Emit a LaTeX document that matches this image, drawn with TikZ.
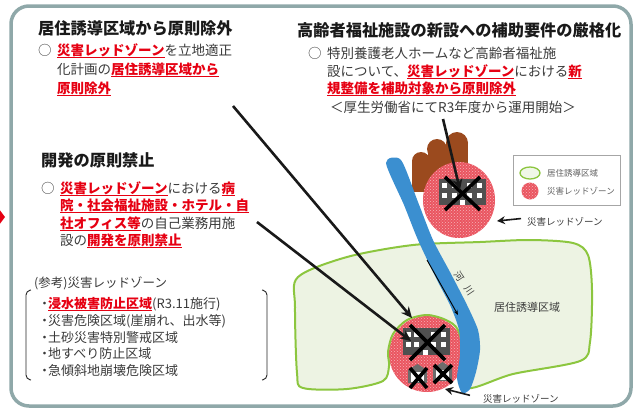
\documentclass[tikz,border=0pt]{standalone}
\usepackage{fontspec}
\setmainfont{Noto Sans CJK JP}
\usetikzlibrary{arrows.meta,patterns}

\definecolor{framec}{HTML}{8FA8A9}
\definecolor{zred}{HTML}{E60012}
\definecolor{zonered}{HTML}{EA5560}
\definecolor{areagreen}{HTML}{8CC63F}
\definecolor{areafill}{HTML}{EDF3E3}
\definecolor{riverblue}{HTML}{3B8FD0}
\definecolor{hillbrown}{HTML}{9B4A1E}
\definecolor{bldgray}{HTML}{505050}
\definecolor{txt}{HTML}{3A3A3A}

% red, bold, underlined emphasis
\newcommand\rz[1]{\leavevmode{\color{zred}\bfseries\setbox0=\hbox{#1}\rlap{\rule[-2.6pt]{\wd0}{1.1pt}}\box0}}
\newcommand\bul{\makebox[7pt][c]{・}}

\begin{document}
\begin{tikzpicture}[x=1pt,y=-1pt,
  ttl/.style={anchor=base west, inner sep=0pt, font=\fontsize{16.2}{19}\selectfont\bfseries, text=black!90},
  body/.style={anchor=base west, inner sep=0pt, font=\fontsize{13.5}{16}\selectfont, text=txt},
  refline/.style={anchor=base west, inner sep=0pt, font=\fontsize{13}{15}\selectfont, text=txt},
  small/.style={anchor=base west, inner sep=0pt, font=\fontsize{9.5}{11}\selectfont, text=txt},
  legtxt/.style={anchor=base west, inner sep=0pt, font=\fontsize{8.5}{10}\selectfont, text=txt!80},
  rivtxt/.style={inner sep=0pt, rotate=-56, font=\fontsize{9.5}{11}\selectfont, text=txt},
  bigarrow/.style={line width=2.6pt, black!90, -{Stealth[length=11pt,width=10pt]}},
  smallarrow/.style={line width=1.6pt, black!90, -{Stealth[length=8pt,width=8pt]}},
  xmark/.style={line width=3.6pt, black},
  zone/.style={fill=zonered},
  dots/.style={pattern=crosshatch dots, pattern color=white!55!zonered}
]
\useasboundingbox (0,0) rectangle (640,410);

% outer frame and the red pointer on its left
\draw[line width=3.5pt, framec, rounded corners=18pt] (11,6) rectangle (631,406);
\fill[zred] (-1,209) -- (5,217) -- (-1,225) -- cycle;

% ---------- residential induction area ----------
\def\areapath{plot[smooth cycle, tension=0.5] coordinates {
  (303,388) (347,389) (383,381) (389,366) (388,352) (393,334) (407,320)
  (427,315) (446,320) (458,330) (466,360) (468,388) (513,374) (580,361)
  (590,342) (592,290) (588,255) (573,243) (530,240) (480,242) (413,245)
  (347,257) (298,277) (295,307) (297,373)}}
\fill[areafill] \areapath;

% lower red zone
\fill[zone] (427,354) circle (38);
\fill[dots] (427,354) circle (38);
\draw[areagreen, line width=2pt] \areapath;

% hill behind the upper red zone
\fill[hillbrown] (412,161) rectangle (431,192);
\fill[hillbrown] (428,149) rectangle (447,192);
\fill[hillbrown] (446,143) rectangle (468,192);
\fill[hillbrown] (421,161) circle (9);
\fill[hillbrown] (437,149) circle (10);
\fill[hillbrown] (457,143) circle (11);

% upper red zone
\fill[zone] (459,200) ellipse (36 and 38);
\fill[dots] (459,200) ellipse (36 and 38);

% river
\fill[riverblue] plot[smooth cycle, tension=0.45] coordinates {
  (386,163) (404,205) (418,240) (436,278) (450,305) (459,330) (460,355)
  (457,378) (462,393) (470,389) (476,372) (480,350) (478,330) (467,305)
  (450,272) (433,240) (418,202) (401,160)};

% buildings in the red zones
\fill[bldgray] (439,179) rectangle (486,205);
\foreach \wx in {442,452,467,477}
  \foreach \wy in {183,193}
    \fill[white] (\wx,\wy) rectangle ++(4.5,4.5);
\fill[white] (460,200) rectangle (465,205);
\fill[bldgray] (403,328) rectangle (450,355);
\foreach \wx in {406,414,431,441}
  \foreach \wy in {332,342}
    \fill[white] (\wx,\wy) rectangle ++(4.5,4.5);
\fill[white] (423,350) rectangle (428,355);
\foreach \hx/\hy in {408/364,433/362}{
  \fill[gray!85!black] (\hx,\hy+6) -- (\hx+9.5,\hy) -- (\hx+19,\hy+6) -- (\hx+19,\hy+19) -- (\hx,\hy+19) -- cycle;
  \fill[white] (\hx+3,\hy+8) rectangle (\hx+16,\hy+18);
}

% crosses
\draw[xmark] (445,177) -- (480,210) (480,177) -- (445,210);
\draw[xmark] (410,325) -- (445,360) (445,325) -- (410,360);
\draw[xmark] (410,368) -- (427,388) (427,368) -- (410,388);
\draw[xmark] (434,365) -- (452,383) (452,365) -- (434,383);

% river label (two characters along the stream) and flow arrow
\node[rivtxt] (rivA) at (459,276) {河};
\node[rivtxt] (rivB) at (469,291) {川};
\coordinate (flowA) at (427,260);
\coordinate (flowB) at (458,315);
\draw[line width=0.9pt, black, -{Stealth[length=5pt,width=4pt]}] (flowA) -- (flowB);

\node[anchor=base west, inner sep=0pt, font=\fontsize{11}{13}\selectfont, text=txt] (areaname) at (494,311) {居住誘導区域};

% zone labels with arrows
\node[small] (zlabelU) at (527,225.5) {災害レッドゾーン};
\node[small] (zlabelL) at (483,402.5) {災害レッドゾーン};
\coordinate (zU) at (497,221);
\coordinate (zL) at (445,389);
\draw[smallarrow] (zlabelU.west) ++(-6,-3.3) coordinate (zUt) (zUt) -- (zU);
\draw[smallarrow] (zlabelL.west) ++(-13,-3.5) coordinate (zLt) (zLt) -- (zL);

% legend
\node[draw=gray!70, fill=white, line width=0.8pt, minimum width=107pt, minimum height=50pt,
      anchor=north west, inner sep=0pt] (legend) at (513,155) {};
\filldraw[fill=areafill!80!areagreen!40, draw=areagreen, line width=1.3pt] (530,173) ellipse (10 and 6);
\fill[zone] (530,191) circle (8.5);
\fill[dots] (530,191) circle (8.5);
\node[legtxt] (leg1) at (547,176.5) {居住誘導区域};
\node[legtxt] (leg2) at (547,194.5) {災害レッドゾーン};

% ---------- top left ----------
\node[ttl] (h1) at (38,34) {居住誘導区域から原則除外};
\node[body] (h1o) at (38,55) {○};
\node[body] (h1a) at (57,55) {\rz{災害レッドゾーン}を立地適正};
\node[body] (h1b) at (57,74.5) {化計画の\rz{居住誘導区域から}};
\node[body] (h1c) at (57,93.5) {\rz{原則除外}};

% ---------- top right ----------
\node[ttl] (h2) at (297,36) {高齢者福祉施設の新設への補助要件の厳格化};
\node[body] (h2o) at (308,58) {○};
\node[body] (h2a) at (327,58) {特別養護老人ホームなど高齢者福祉施};
\node[body] (h2b) at (327,76.5) {設について、\rz{災害レッドゾーン}における\rz{新}};
\node[body] (h2c) at (327,93.5) {\rz{規整備を補助対象から原則除外}};
\node[body] (h2d) at (330,112) {＜厚生労働省にてR3年度から運用開始＞};

% ---------- middle left ----------
\node[ttl] (h3) at (41,166) {開発の原則禁止};
\node[body] (h3o) at (41,193) {○};
\node[body] (h3a) at (60,193) {\rz{災害レッドゾーン}における\rz{病}};
\node[body] (h3b) at (60,210.5) {\rz{院・社会福祉施設・ホテル・自}};
\node[body] (h3c) at (60,228) {\rz{社オフィス等}の自己業務用施};
\node[body] (h3d) at (60,245.5) {設の\rz{開発を原則禁止}};

% ---------- reference list ----------
\node[anchor=base west, inner sep=0pt, font=\fontsize{12.5}{15}\selectfont, text=txt] (refh) at (34,287) {(参考)災害レッドゾーン};
\node[refline] (r1) at (41,308) {\bul\rz{浸水被害防止区域}(R3.11施行)};
\node[refline] (r2) at (41,325) {\bul 災害危険区域(崖崩れ、出水等)};
\node[refline] (r3) at (41,342) {\bul 土砂災害特別警戒区域};
\node[refline] (r4) at (41,358.5) {\bul 地すべり防止区域};
\node[refline] (r5) at (41,375) {\bul 急傾斜地崩壊危険区域};
\draw[line width=0.9pt, black!85, rounded corners=4pt] (31,290) -- (26,291) -- (26,379) -- (31,380);
\draw[line width=0.9pt, black!85, rounded corners=4pt] (262,290) -- (267,291) -- (267,379) -- (262,380);

% ---------- pointer arrows ----------
\coordinate (p1s) at (233,106);
\coordinate (p1e) at (412,318);
\coordinate (p2s) at (257,222);
\coordinate (p2e) at (411,341);
\coordinate (p3s) at (443,119);
\coordinate (p3e) at (460,190);
\draw[bigarrow] (p1s) -- (p1e);
\draw[bigarrow] (p2s) -- (p2e);
\draw[bigarrow] (p3s) -- (p3e);
\end{tikzpicture}
\end{document}
